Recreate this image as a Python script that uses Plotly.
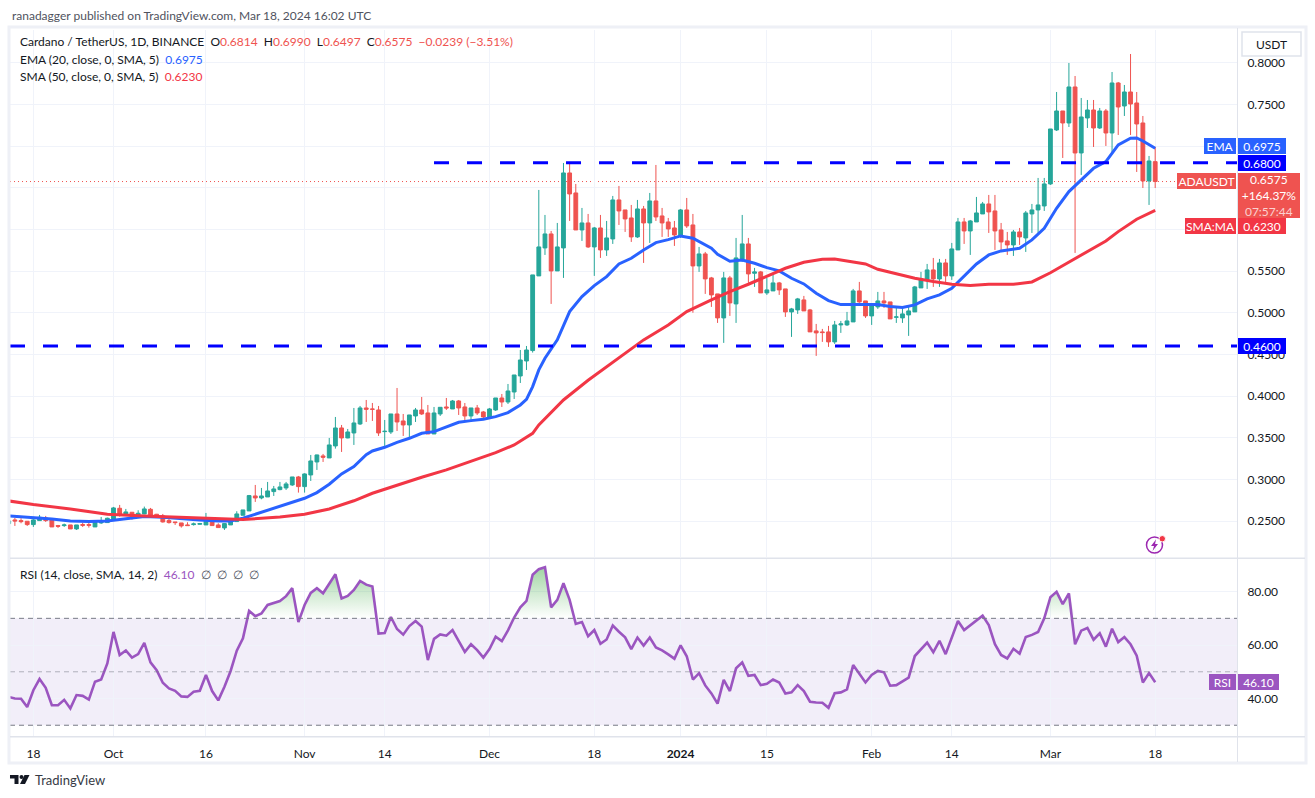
import pandas as pd
import plotly.graph_objects as go

W, H = 1315, 798

dates = pd.date_range("2023-09-14", "2024-03-18", freq="D")

opens = [
    .2469, .2513, .2505, .2497, .2457, .2505, .2537, .2517, .2445, .2445, .2453, .2405, .2457, .2457, .2429, .2477, .2481,
    .2525, .2653, .2573, .2605, .2569, .2585, .2641, .2581, .2561, .2505, .2489, .2477, .2453, .2457, .2461, .2453, .2513, .2453, .2417, .2453, .2493, .2569, .2621, .2801, .2777, .2789, .2853, .2877, .2897, .2933, .3029,
    .2913, .3053, .3209, .3281, .3257, .3401, .3617, .3497, .3557, .3665, .3857, .3845, .3833, .3573, .3569, .3785, .3701, .3653, .3761, .3833, .3797, .3545, .3785, .3869, .3845, .3941, .3869, .3761, .3857, .3809,
    .3749, .3833, .3977, .3929, .4049, .4241, .4421, .4546, .5442, .5778, .5946, .5502, .5778, .6678, .6438, .5994, .6078, .5790, .6018, .5754, .5886, .6354, .6234, .6138, .5910, .6246, .6078, .6342, .6162, .6090, .6018,
    .5922, .6234, .6054, .5562, .5706, .5418, .5226, .4938, .5418, .5106, .5646, .5826, .5474, .5490, .5238, .5262, .5358, .5286, .5010, .5034, .5154, .5034, .4782, .4770, .4770, .4650, .4854, .4854, .4890, .5262, .5142,
    .4962, .5070, .5142, .5130, .4946, .4938, .4974, .5010, .5298, .5394, .5514, .5406, .5598, .5442, .5754, .6090, .5982, .6090, .6186, .6306, .6222, .5994, .5862, .5814, .5970, .5898, .6186, .6234, .6282,
    .6546, .7194, .7422, .7278, .7710, .6918, .7338, .7434, .7218, .7422, .7158, .7758, .7482, .7650, .7518, .7278, .6582, .6814,
]
highs = [
    .2501, .2537, .2533, .2497, .2549, .2573, .2561, .2525, .2453, .2469, .2453, .2453, .2481, .2481, .2505, .2549, .2541,
    .2669, .2693, .2645, .2605, .2629, .2673, .2657, .2585, .2585, .2533, .2489, .2477, .2485, .2481, .2477, .2597, .2521, .2473, .2473, .2517, .2617, .2633, .2813, .2933, .2897, .2969, .2921, .2969, .2969, .3029, .3041,
    .3073, .3293, .3297, .3305, .3497, .3749, .3653, .3605, .3857, .3881, .3953, .3917, .3881, .3713, .3785, .4097, .3785, .3773, .3857, .3989, .3893, .3869, .3865, .3977, .3953, .3953, .3917, .3857, .3893, .3821,
    .3857, .3977, .4025, .4145, .4253, .4553, .4601, .5454, .6474, .6174, .5982, .6078, .6798, .6810, .6546, .6258, .6186, .6030, .6174, .6102, .6402, .6522, .6234, .6294, .6354, .6282, .6438, .6774, .6258, .6138, .6102,
    .6246, .6378, .6186, .5790, .5730, .5430, .5226, .5490, .5442, .5898, .6174, .5898, .5538, .5502, .5418, .5478, .5370, .5286, .5058, .5178, .5202, .5046, .4866, .4806, .4842, .4902, .4902, .5010, .5286, .5370, .5142,
    .5106, .5250, .5250, .5130, .5070, .5070, .5082, .5322, .5490, .5586, .5658, .5646, .5646, .5838, .6138, .6138, .6114, .6390, .6330, .6414, .6414, .6078, .5970, .5994, .6018, .6222, .6306, .6618, .6618,
    .7206, .7650, .7422, .7998, .7842, .7578, .7554, .7554, .7458, .7446, .7890, .7770, .7734, .8106, .7650, .7362, .6882, .6990,
]
lows = [
    .2469, .2441, .2473, .2441, .2429, .2505, .2489, .2429, .2417, .2429, .2405, .2393, .2429, .2421, .2429, .2465, .2481,
    .2525, .2553, .2561, .2517, .2561, .2581, .2569, .2549, .2481, .2469, .2453, .2421, .2445, .2445, .2457, .2453, .2445, .2421, .2393, .2453, .2493, .2569, .2621, .2729, .2761, .2789, .2801, .2869, .2873, .2921, .2841,
    .2841, .2981, .3113, .3209, .3257, .3369, .3329, .3493, .3413, .3653, .3689, .3701, .3521, .3401, .3545, .3581, .3521, .3485, .3689, .3773, .3545, .3545, .3761, .3833, .3845, .3773, .3713, .3689, .3773, .3713,
    .3737, .3821, .3869, .3905, .3965, .4157, .4313, .4522, .5442, .5694, .5106, .5502, .5418, .6102, .5994, .5862, .5778, .5442, .5658, .5682, .5826, .6054, .5970, .5850, .5898, .5598, .5838, .6102, .5910, .5910, .5802,
    .5898, .6018, .5000, .5490, .5226, .5070, .4878, .4638, .4962, .4878, .5610, .5358, .5310, .5238, .5214, .5262, .5214, .4950, .4710, .4986, .5022, .4770, .4482, .4650, .4590, .4626, .4758, .4842, .4890, .5118, .4938,
    .4854, .5046, .5058, .4926, .4878, .4878, .4722, .5010, .5298, .5286, .5310, .5310, .5358, .5394, .5754, .5826, .5694, .6090, .6186, .5958, .5754, .5754, .5694, .5682, .5814, .5730, .5958, .5958, .6222,
    .6534, .7182, .6858, .7230, .5718, .6654, .7218, .6990, .7206, .7002, .6906, .7134, .7362, .7134, .6690, .6498, .6294, .6497,
]
closes = [
    .2501, .2501, .2493, .2457, .2513, .2545, .2505, .2429, .2437, .2453, .2405, .2453, .2449, .2449, .2485, .2485, .2533,
    .2657, .2569, .2609, .2553, .2593, .2645, .2569, .2549, .2489, .2481, .2481, .2441, .2445, .2465, .2469, .2497, .2445, .2421, .2469, .2505, .2585, .2633, .2805, .2777, .2801, .2861, .2885, .2909, .2945, .3029, .2913,
    .3065, .3221, .3293, .3265, .3413, .3617, .3497, .3569, .3677, .3857, .3841, .3841, .3557, .3577, .3785, .3689, .3653, .3773, .3833, .3785, .3545, .3797, .3865, .3857, .3941, .3857, .3761, .3857, .3797, .3749,
    .3845, .3977, .3929, .4061, .4253, .4433, .4553, .5454, .5790, .5946, .5502, .5790, .6678, .6426, .5994, .6078, .5790, .6018, .5754, .5898, .6354, .6222, .6126, .5910, .6246, .6078, .6342, .6150, .6078, .6006, .5934,
    .6234, .6042, .5562, .5706, .5406, .5214, .4938, .5418, .5118, .5658, .5826, .5466, .5490, .5238, .5274, .5358, .5274, .5010, .5046, .5166, .5022, .4770, .4758, .4762, .4650, .4854, .4866, .4902, .5262, .5130, .4962,
    .5094, .5142, .5118, .4926, .4950, .4986, .5022, .5310, .5406, .5514, .5406, .5598, .5442, .5766, .6090, .5982, .6102, .6198, .6306, .6210, .5982, .5850, .5814, .5970, .5910, .6198, .6234, .6294, .6546,
    .7206, .7422, .7278, .7710, .6918, .7350, .7434, .7218, .7422, .7158, .7758, .7470, .7650, .7506, .7266, .6582, .6822, .6575,
]

ema_dates = [
    "2023-09-14", "2023-09-18", "2023-09-21", "2023-09-24", "2023-09-27", "2023-09-30", "2023-10-03", "2023-10-06", "2023-10-09",
    "2023-10-12", "2023-10-15", "2023-10-18", "2023-10-20", "2023-10-22", "2023-10-24", "2023-10-26", "2023-10-28", "2023-10-30",
    "2023-11-01", "2023-11-03", "2023-11-05", "2023-11-07", "2023-11-09", "2023-11-11", "2023-11-12", "2023-11-14", "2023-11-16",
    "2023-11-18", "2023-11-20", "2023-11-22", "2023-11-24", "2023-11-26", "2023-11-28", "2023-11-30", "2023-12-02", "2023-12-04",
    "2023-12-06", "2023-12-07", "2023-12-08", "2023-12-09", "2023-12-10", "2023-12-12", "2023-12-14", "2023-12-16", "2023-12-18",
    "2023-12-20", "2023-12-22", "2023-12-24", "2023-12-26", "2023-12-28", "2023-12-30", "2024-01-01", "2024-01-03", "2024-01-05",
    "2024-01-06", "2024-01-07", "2024-01-09", "2024-01-11", "2024-01-13", "2024-01-15", "2024-01-17", "2024-01-19", "2024-01-21",
    "2024-01-23", "2024-01-25", "2024-01-27", "2024-01-29", "2024-01-31", "2024-02-02", "2024-02-04", "2024-02-06", "2024-02-08",
    "2024-02-10", "2024-02-12", "2024-02-14", "2024-02-16", "2024-02-18", "2024-02-20", "2024-02-22", "2024-02-25", "2024-02-27",
    "2024-02-29", "2024-03-02", "2024-03-04", "2024-03-06", "2024-03-08", "2024-03-10", "2024-03-12", "2024-03-14", "2024-03-15",
    "2024-03-16", "2024-03-18",
]
ema_values = [
    .2561, .2545, .2525, .2501, .2493, .2501, .2529, .2553, .2545,
    .2525, .2513, .2501, .2501, .2533, .2581, .2633, .2681, .2725,
    .2773, .2841, .2941, .3065, .3153, .3297, .3341, .3385, .3445,
    .3493, .3553, .3573, .3633, .3685, .3705, .3721, .3753, .3801,
    .3893, .3961, .4113, .4314, .4454, .4674, .5014, .5194, .5326,
    .5434, .5586, .5654, .5754, .5842, .5878, .5922, .5894, .5814,
    .5774, .5702, .5618, .5634, .5594, .5542, .5502, .5414, .5346,
    .5234, .5146, .5098, .5094, .5098, .5098, .5074, .5062, .5094,
    .5166, .5214, .5294, .5442, .5586, .5694, .5742, .5774, .5874,
    .6014, .6254, .6454, .6594, .6734, .6814, .7014, .7094, .7098,
    .7062, .6975,
]

sma_dates = [
    "2023-09-14", "2023-09-18", "2023-09-24", "2023-09-30", "2023-10-06", "2023-10-12", "2023-10-18", "2023-10-22", "2023-10-28",
    "2023-11-01", "2023-11-05", "2023-11-09", "2023-11-12", "2023-11-16", "2023-11-20", "2023-11-24", "2023-11-28", "2023-12-02",
    "2023-12-05", "2023-12-08", "2023-12-09", "2023-12-13", "2023-12-17", "2023-12-22", "2023-12-26", "2023-12-30", "2024-01-02",
    "2024-01-06", "2024-01-09", "2024-01-12", "2024-01-15", "2024-01-18", "2024-01-21", "2024-01-24", "2024-01-26", "2024-01-29",
    "2024-01-31", "2024-02-02", "2024-02-05", "2024-02-08", "2024-02-11", "2024-02-14", "2024-02-17", "2024-02-20", "2024-02-24",
    "2024-02-27", "2024-03-01", "2024-03-05", "2024-03-08", "2024-03-10", "2024-03-12", "2024-03-15", "2024-03-18",
]
sma_values = [
    .2741, .2697, .2645, .2581, .2561, .2545, .2525, .2517, .2549,
    .2581, .2645, .2743, .2833, .2933, .3025, .3113, .3213, .3321,
    .3413, .3553, .3653, .3953, .4190, .4454, .4674, .4854, .5014,
    .5154, .5254, .5342, .5434, .5534, .5606, .5642, .5646, .5610,
    .5586, .5522, .5466, .5414, .5374, .5342, .5326, .5342, .5342,
    .5370, .5480, .5646, .5774, .5862, .5974, .6122, .6230,
]

rsi_values = [
    40.6, 40.0, 39.9, 36.8, 43.1, 47.3, 44.0, 37.5, 37.5, 39.5, 36.3, 41.3, 41.0, 39.6, 46.3, 47.1, 53.1,
    64.9, 56.3, 58.0, 55.3, 56.6, 60.8, 53.5, 50.6, 45.9, 43.8, 42.9, 40.8, 40.6, 42.5, 42.9, 48.8, 42.8, 39.3, 44.4, 50.3, 57.9, 62.5, 72.8, 70.8, 71.8, 75.0, 75.8, 76.5, 78.3, 81.3, 68.6,
    75.0, 79.5, 81.3, 79.4, 82.8, 86.5, 77.4, 78.4, 80.6, 84.0, 82.6, 81.9, 64.3, 64.5, 70.5, 66.0, 63.9, 67.1, 69.0, 66.9, 54.4, 62.3, 64.0, 63.5, 65.6, 61.5, 57.4, 60.3, 58.1, 55.3,
    58.5, 63.1, 61.5, 65.5, 70.3, 74.1, 76.5, 86.3, 88.4, 89.1, 74.1, 76.9, 83.1, 76.9, 67.9, 68.6, 63.3, 65.6, 60.5, 62.1, 67.3, 65.0, 62.9, 58.5, 62.8, 59.8, 62.8, 59.1, 58.0, 56.5, 54.9,
    59.9, 55.8, 47.1, 49.5, 44.9, 41.9, 38.1, 47.0, 42.8, 51.3, 53.5, 48.5, 48.8, 45.0, 45.5, 47.1, 46.0, 41.9, 42.3, 45.0, 42.8, 38.8, 38.5, 38.4, 36.5, 42.0, 42.3, 43.4, 52.5, 49.3, 46.0,
    48.8, 50.3, 49.8, 44.8, 45.0, 46.3, 47.8, 55.9, 58.4, 60.9, 57.3, 61.6, 56.6, 63.1, 69.0, 65.6, 67.3, 69.0, 71.0, 67.5, 60.3, 56.3, 55.0, 58.6, 56.8, 63.0, 63.8, 64.9, 70.0,
    77.9, 79.9, 75.3, 79.3, 60.3, 65.4, 66.4, 62.0, 64.4, 59.4, 66.1, 61.1, 63.0, 60.3, 56.0, 46.0, 49.5, 46.1,
]

tick_dates = ["2023-09-18", "2023-10-01", "2023-10-16", "2023-11-01", "2023-11-14", "2023-12-01", "2023-12-18",
              "2024-01-01", "2024-01-15", "2024-02-01", "2024-02-14", "2024-03-01", "2024-03-18"]
tick_labels = ["18", "Oct", "16", "Nov", "14", "Dec", "18", "<b>2024</b>", "15", "Feb", "14", "Mar", "18"]
price_ticks = [.25, .30, .35, .40, .45, .50, .55, .60, .65, .70, .75, .80]
# .60, .65 and .70 sit behind the price tags in the picture
price_labels = ["0.2500", "0.3000", "0.3500", "0.4000", "0.4500", "0.5000", "0.5500", "", "", "", "0.7500", "0.8000"]
rsi_ticks = [40, 60, 80]
levels = [0.68, 0.46]

UP, DOWN = "#26a69a", "#ef5350"
EMA_COL, SMA_COL, RSI_COL = "#2962ff", "#f23645", "#9b55c0"
GRID, TEXT = "#f0f3fa", "#131722"
FONT = "Lato"
FS = 12

x_start, x_end = "2023-09-14 05:00", "2024-03-31 06:30"


def px(x):
    return x / W


def py(y):
    return 1 - y / H


def hline(y0, x0, x1, color, width, dash, yref="y", xref="x", layer="above"):
    return dict(type="line", xref=xref, yref=yref, x0=x0, x1=x1, y0=y0, y1=y0, layer=layer,
                line=dict(color=color, width=width, dash=dash))


def box(x0, y0, x1, y1, **kw):
    return dict(type="rect", xref="paper", yref="paper", x0=px(x0), x1=px(x1), y0=py(y0), y1=py(y1), **kw)


def poly(points, color):
    path = "M" + " L".join(f"{px(a):.5f},{py(b):.5f}" for a, b in points) + " Z"
    return dict(type="path", xref="paper", yref="paper", path=path, fillcolor=color, line_width=0, layer="above")


def label(text, x, y, size=FS, color=TEXT, anchor="left"):
    return dict(text=text, xref="paper", yref="paper", x=px(x), y=py(y), xanchor=anchor, yanchor="middle",
                showarrow=False, align="left", font=dict(family=FONT, size=size, color=color))


def tag(text, x0, y0, x1, y1, bg, color="white"):
    return dict(text=text, xref="paper", yref="paper", x=px(x0), y=py(y0), xanchor="left", yanchor="top",
                width=x1 - x0, height=y1 - y0, bgcolor=bg, borderpad=0, borderwidth=0, showarrow=False,
                align="center", valign="middle", font=dict(family=FONT, size=FS, color=color))


def red(v):
    return f'<span style="color:{DOWN}">{v}</span>'


fig = go.Figure()
fig.add_trace(go.Candlestick(x=dates, open=opens, high=highs, low=lows, close=closes, whiskerwidth=0,
                             increasing=dict(line=dict(color=UP, width=1), fillcolor=UP),
                             decreasing=dict(line=dict(color=DOWN, width=1), fillcolor=DOWN)))
fig.add_trace(go.Scatter(x=ema_dates, y=ema_values, mode="lines", line=dict(color=EMA_COL, width=3)))
fig.add_trace(go.Scatter(x=sma_dates, y=sma_values, mode="lines", line=dict(color=SMA_COL, width=3)))

# overbought gradient above the 70 line
fig.add_trace(go.Scatter(x=dates, y=[70] * len(dates), mode="lines", line=dict(width=0), xaxis="x2", yaxis="y2"))
fig.add_trace(go.Scatter(x=dates, y=[max(r, 70) for r in rsi_values], mode="lines", line=dict(width=0),
                         fill="tonexty", xaxis="x2", yaxis="y2",
                         fillgradient=dict(type="vertical", start=70, stop=90,
                                           colorscale=[[0, "rgba(76,175,80,0)"], [1, "rgba(76,175,80,0.55)"]])))
fig.add_trace(go.Scatter(x=dates, y=rsi_values, mode="lines", line=dict(color=RSI_COL, width=2.6),
                         xaxis="x2", yaxis="y2"))

shapes = [
    hline(closes[-1], x_start, x_end, DOWN, 1, "1px,3px", layer="below"),
    hline(levels[0], "2023-11-22", x_end, "#0000ff", 3, "15px,18px"),
    hline(levels[1], x_start, x_end, "#0000ff", 3, "15px,18px"),
    dict(type="rect", xref="x2", yref="y2", x0=x_start, x1=x_end, y0=30, y1=70, layer="below",
         fillcolor="rgba(126,87,194,0.1)", line_width=0),
    hline(70, x_start, x_end, "#787b86", 1, "5px,4px", yref="y2", xref="x2"),
    hline(50, x_start, x_end, "rgba(120,123,134,0.55)", 1, "5px,4px", yref="y2", xref="x2"),
    hline(30, x_start, x_end, "#787b86", 1, "5px,4px", yref="y2", xref="x2"),
    # chart frame and pane dividers
    box(9, 27, 1306, 763, line=dict(color="#eef0f6", width=3), layer="above"),
    box(1237, 28, 1238, 762, fillcolor="#e0e3eb", line_width=0, layer="above"),
    box(10, 557.5, 1305, 559, fillcolor="#e0e3eb", line_width=0, layer="above"),
    box(10, 736, 1305, 737.5, fillcolor="#e0e3eb", line_width=0, layer="above"),
    # currency button
    box(1242, 32, 1301, 56, fillcolor="white", line=dict(color="#e0e3eb", width=1.5), layer="above"),
    # lightning mark
    dict(type="circle", xref="paper", yref="paper", x0=px(1146.5), x1=px(1162.5), y0=py(537), y1=py(553),
         line=dict(color="#9c27b0", width=1.5), layer="above"),
    poly([(1156, 539.5), (1151, 546), (1154, 546), (1152.5, 551), (1158, 544), (1155, 544)], "#9c27b0"),
    dict(type="circle", xref="paper", yref="paper", x0=px(1159), x1=px(1165.5), y0=py(535.5), y1=py(542),
         fillcolor="#f23645", line=dict(color="white", width=1), layer="above"),
    # TradingView mark
    poly([(10, 775), (18.5, 775), (18.5, 784), (14.5, 784), (14.5, 778.5), (10, 778.5)], "#131722"),
    poly([(24.5, 775), (29.5, 775), (25, 784), (20, 784)], "#131722"),
    dict(type="circle", xref="paper", yref="paper", x0=px(19.5), x1=px(23.5), y0=py(775), y1=py(779),
         fillcolor="#131722", line_width=0, layer="above"),
]

last = f"{closes[-1]:.4f}"
annotations = [
    label("ranadagger published on TradingView.com, Mar 18, 2024 16:02 UTC", 10, 15, color="#50535e"),
    label("Cardano / TetherUS, 1D, BINANCE  O" + red("0.6814") + "  H" + red("0.6990") + "  L" + red("0.6497")
          + "  C" + red(last) + "  " + red("−0.0239 (−3.51%)"), 18, 42),
    label(f'EMA (20, close, 0, SMA, 5)  <span style="color:{EMA_COL}">{ema_values[-1]:.4f}</span>', 18, 59),
    label(f'SMA (50, close, 0, SMA, 5)  <span style="color:{SMA_COL}">{sma_values[-1]:.4f}</span>', 18, 76),
    label(f'RSI (14, close, SMA, 14, 2)  <span style="color:{RSI_COL}">{rsi_values[-1]:.2f}</span>'
          '  <span style="color:#50535e">∅  ∅  ∅  ∅</span>', 18, 574),
    label("USDT", 1271.5, 44, anchor="center"),
    label("TradingView", 33, 780, size=13, color="#363a45"),
    tag("EMA", 1204, 138, 1236, 154, EMA_COL),
    tag(f"{ema_values[-1]:.4f}", 1238, 138, 1286, 154, EMA_COL),
    tag(f"{levels[0]:.4f}", 1238, 155, 1286, 171, "#0000ff"),
    tag("ADAUSDT", 1177, 173, 1236, 189, DOWN),
    tag(f'{last}<br>+164.37%<br><span style="color:#fbd0cf">07:57:44</span>', 1238, 173, 1300, 218, DOWN),
    tag("SMA:MA", 1185, 218, 1236, 234, SMA_COL),
    tag(f"{sma_values[-1]:.4f}", 1238, 218, 1286, 234, SMA_COL),
    tag(f"{levels[1]:.4f}", 1238, 338, 1286, 354, "#0000ff"),
    tag("RSI", 1209, 674, 1236, 690, RSI_COL),
    tag(f"{rsi_values[-1]:.2f}", 1238, 674, 1279, 690, RSI_COL),
]

x_common = dict(type="date", range=[x_start, x_end], tickmode="array", tickvals=tick_dates, showgrid=True,
                gridcolor=GRID, gridwidth=1, zeroline=False, showline=False, rangeslider=dict(visible=False),
                domain=[px(10), px(1237)])
fig.update_layout(
    width=W, height=H, margin=dict(l=0, r=0, t=0, b=0), autosize=False,
    paper_bgcolor="white", plot_bgcolor="white", showlegend=False, boxgap=0.12,
    font=dict(family=FONT, size=FS, color=TEXT),
    xaxis=dict(**x_common, anchor="y", showticklabels=False, ticks=""),
    xaxis2=dict(**x_common, anchor="y2", matches="x", ticktext=tick_labels, ticks="outside", ticklen=6,
                tickcolor="rgba(0,0,0,0)"),
    yaxis=dict(domain=[py(557), py(30)], range=[.2068, .8394], side="right", anchor="x", tickmode="array",
               tickvals=price_ticks, ticktext=price_labels, gridcolor=GRID, zeroline=False, showline=False,
               ticks="outside", ticklen=7, tickcolor="rgba(0,0,0,0)"),
    yaxis2=dict(domain=[py(737), py(559)], range=[25.6, 92.2], side="right", anchor="x2", tickmode="array",
                tickvals=rsi_ticks, tickformat=".2f", gridcolor=GRID, zeroline=False, showline=False,
                ticks="outside", ticklen=7, tickcolor="rgba(0,0,0,0)"),
    shapes=shapes, annotations=annotations,
)

# the page's default 8px body margin would push the fixed-size figure off its place
fig.write_html("out.html", post_script="document.body.style.margin='0';", config=dict(displayModeBar=False))
